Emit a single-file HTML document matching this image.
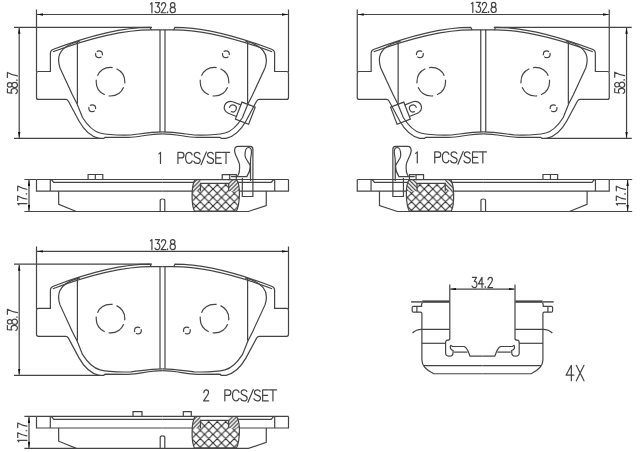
<!DOCTYPE html>
<html><head><meta charset="utf-8"><style>
html,body{margin:0;padding:0;background:#fff;width:640px;height:452px;overflow:hidden}
svg{display:block}
</style></head><body>
<svg width="640" height="452" viewBox="0 0 640 452">
<defs>
<path id="g1" d="M0.4 -8.7L1.9 -10V0" vector-effect="non-scaling-stroke"/>
<path id="g2" d="M0.3 -7.6C0.5 -9.2 1.4 -10 2.5 -10C3.8 -10 4.6 -9 4.6 -7.6C4.6 -6.2 3.8 -5.1 0.1 0H4.8" vector-effect="non-scaling-stroke"/>
<path id="g3" d="M0.4 -10H4.5L2.2 -6.1C3.8 -6.3 4.8 -5 4.8 -3.1C4.8 -1.1 3.7 0 2.4 0C1.2 0 0.4 -0.6 0 -1.5" vector-effect="non-scaling-stroke"/>
<path id="g4" d="M3.4 0V-10L0 -3.6H5" vector-effect="non-scaling-stroke"/>
<path id="g5" d="M4.9 -10H1L0.6 -5.5C1.2 -6 2 -6.3 2.7 -6.3C4.3 -6.3 5.2 -5 5.2 -3.1C5.2 -1.1 4.1 0 2.6 0C1.4 0 0.5 -0.6 0.1 -1.6" vector-effect="non-scaling-stroke"/>
<path id="g7" d="M0 -10H5C3.3 -7 2.2 -4 1.6 0" vector-effect="non-scaling-stroke"/>
<path id="g8" d="M2.6 -5.4C1.2 -5.4 0.4 -6.3 0.4 -7.7C0.4 -9.1 1.3 -10 2.6 -10C3.9 -10 4.8 -9.1 4.8 -7.7C4.8 -6.3 4 -5.4 2.6 -5.4C1.1 -5.4 0 -4.4 0 -2.7C0 -1 1.1 0 2.6 0C4.1 0 5.2 -1 5.2 -2.7C5.2 -4.4 4.1 -5.4 2.6 -5.4Z" vector-effect="non-scaling-stroke"/>
<path id="gdot" d="M0.6 -0.9V-0.1" vector-effect="non-scaling-stroke"/>
<path id="gP" d="M0.4 0V-10H3.3C5 -10 5.9 -9 5.9 -7.5C5.9 -6 5 -5 3.3 -5H0.4" vector-effect="non-scaling-stroke"/>
<path id="gC" d="M6 -7.7C5.6 -9.2 4.6 -10 3.3 -10C1.3 -10 0.1 -8 0.1 -5C0.1 -2 1.3 0 3.3 0C4.6 0 5.6 -0.8 6.1 -2.4" vector-effect="non-scaling-stroke"/>
<path id="gS" d="M5.6 -8.5C5.2 -9.5 4.3 -10 3 -10C1.5 -10 0.4 -9.2 0.4 -7.6C0.4 -4.2 5.9 -5.8 5.9 -2.6C5.9 -0.9 4.7 0 3 0C1.4 0 0.4 -0.7 0 -1.9" vector-effect="non-scaling-stroke"/>
<path id="gsl" d="M0 1.2L4.8 -10.4" vector-effect="non-scaling-stroke"/>
<path id="gE" d="M5.5 -10H0.4V0H5.5M0.4 -5.1H5" vector-effect="non-scaling-stroke"/>
<path id="gT" d="M0 -10H6.6M3.3 -10V0" vector-effect="non-scaling-stroke"/>
<path id="gX" d="M0 -10L5 0M5 -10L0 0" vector-effect="non-scaling-stroke"/>
<pattern id="xh" patternUnits="userSpaceOnUse" width="8.5" height="8.5" x="0.5" y="2">
<path d="M0 0L8.5 8.5M8.5 0L0 8.5M-1 7.5L1 9.5M7.5 -1L9.5 1M7.5 9.5L9.5 7.5M-1 1L1 -1" stroke="#2a2a2a" stroke-width="1.1" fill="none"/>
</pattern>
<pattern id="sh" patternUnits="userSpaceOnUse" width="4" height="4" x="0.5" y="0">
<path d="M-1 5L5 -1M-1 1L1 -1M3 5L5 3" stroke="#2a2a2a" stroke-width="1.1" fill="none"/>
</pattern>
<marker id="ah" viewBox="0 0 10 4" refX="10" refY="2" markerWidth="6" markerHeight="2.6" orient="auto-start-reverse" markerUnits="userSpaceOnUse">
<path d="M0 0L10 2L0 4z" fill="#111" stroke="none"/>
</marker>
<clipPath id="blk"><path d="M194.9 179.6L236.6 179.6C239 183 239.6 188 239.4 195C239.2 202 238.5 207 236.5 211L194.4 211C192.5 207 192 202 192.1 195C192.2 188 193 183 194.9 179.6Z"/></clipPath>
<!-- left half of pad front view -->
<g id="halfPad">
<path d="M162.5 29.8L151.3 29.8L150 27.3Q111 27.3 53.4 49.3Q50.4 50.6 50.4 53L50.4 71.5L38.5 71.5Q36.5 71.5 36.5 73.5L36.5 97.4Q36.5 99.4 38.5 99.4L65.6 99.4Q67.4 99.4 68.4 101.2L79 121C84 130 90 136.4 99 138.4L103.8 138.4L105 137.3L128 137.4C140 137 148 134 162.5 133.8"/>
<path d="M52.9 51.8Q112 29.8 151.3 29.8"/>
<path d="M80 41C66 44.5 58.6 51 58.6 60C58.6 63 59 65 60 68L72.5 95L77 103.8L82.5 117.5C86 123 92 131 100 133C106 134.5 120 135.3 131 135C140 134 150 132 162.5 131.9"/>
<path d="M77.4 41.8L77.4 103.8"/>
<path d="M160 29.8L160 131.9"/>
</g>
<g id="pad">
<use href="#halfPad" xlink:href="#halfPad"/>
<use href="#halfPad" xlink:href="#halfPad" transform="translate(325,0) scale(-1,1)"/>
<circle cx="110.5" cy="81.7" r="14.3" stroke-dasharray="18.46 4" stroke-dashoffset="16.7"/>
<circle cx="214.5" cy="81.7" r="14.3" stroke-dasharray="18.46 4" stroke-dashoffset="16.7"/>
</g>
<g id="halfSide">
<path d="M36.5 179.5L162.5 179.5"/>
<path d="M36.5 179.5L36.5 191.1L162.5 191.1"/>
<path d="M50.3 179.5L50.3 191.1"/>
<path d="M51.3 179.5L53.8 182.4L162.5 182.4"/>
<path d="M160.2 211.5L160.2 200.5Q160.2 199 162.5 199"/>
</g>
<g id="fric"><path d="M58.6 191.1L58.7 204.3L76.3 211.5L248.4 211.5L266.25 205.5L266.3 191.1"/></g>
<g id="dims">
<path d="M36.5 9.5L36.5 72M288.5 9.5L288.5 72"/>
<path d="M37 14.5L288 14.5" marker-start="url(#ah)" marker-end="url(#ah)"/>
<path d="M14 27.3L152 27.3M14 138.4L100 138.4"/>
<path d="M19.2 27.8L19.2 137.9" marker-start="url(#ah)" marker-end="url(#ah)"/>
</g>
<g id="sdimL">
<path d="M24.4 179.5L36.5 179.5M24.4 211.5L76.3 211.5"/>
<path d="M29 180L29 211" marker-start="url(#ah)" marker-end="url(#ah)"/>
</g>
<g id="hatch">
<g clip-path="url(#blk)">
<rect x="190" y="178" width="52" height="35" fill="#fff" stroke="none"/>
<path d="M190 191.3L200.5 191.3L200.5 183.4L228.7 183.4L228.7 191.3L242 191.3L242 213L190 213Z" fill="url(#xh)" stroke="none"/>
<path d="M190 179.6H200.5V191.3H190Z M228.7 179.6H242V191.3H228.7Z" fill="url(#sh)" stroke="none"/>
</g>
<path d="M194.9 179.6L236.6 179.6C239 183 239.6 188 239.4 195C239.2 202 238.5 207 236.5 211L194.4 211C192.5 207 192 202 192.1 195C192.2 188 193 183 194.9 179.6Z"/>
<path d="M200.5 191.3L200.5 183.4L228.7 183.4L228.7 191.3"/>
</g>
<!-- geometry of the top-left panel (mirrored for top-right) -->
<g id="geoTL">
<use href="#pad" xlink:href="#pad"/>
<circle cx="99" cy="54.3" r="3.4" stroke-dasharray="9.18 1.5" stroke-dashoffset="8.15"/>
<circle cx="225.9" cy="54.2" r="3.4" stroke-dasharray="9.18 1.5" stroke-dashoffset="8.15"/>
<circle cx="92.2" cy="108.2" r="3.4" stroke-dasharray="9.18 1.5" stroke-dashoffset="8.15"/>
<g transform="translate(245.3,113.2) rotate(21)">
<rect x="-7.1" y="-9.15" width="14.2" height="18.3"/>
<path d="M-7.1 -6.2L-15.9 -6.2A6.2 6.2 0 0 0 -15.9 6.2L-7.1 6.2"/>
<circle cx="-13.4" cy="0" r="3.5" stroke-dasharray="14 4" stroke-dashoffset="8"/>
</g>
<use href="#dims" xlink:href="#dims"/>
<use href="#halfSide" xlink:href="#halfSide"/>
<use href="#halfSide" xlink:href="#halfSide" transform="translate(325,0) scale(-1,1)"/>
<use href="#fric" xlink:href="#fric"/>
<path d="M88.1 179.5L88.1 174.5L102.8 174.5L102.8 179.5M95.3 174.5L95.3 179.5"/>
<path d="M222.2 179.5L222.2 174.7L236.3 174.7L236.3 179.5M229.7 174.7L229.7 179.5"/>
<use href="#hatch" xlink:href="#hatch"/>
<path d="M237.5 176.2C239.8 173 239.8 168 239.5 164.5C238.5 159.5 234.6 155 234.6 150.5C234.6 147.8 235.8 146.4 238 146.4L250.5 146.4C252 146.4 252.9 147.5 252.9 149.5L252.9 196.5L242.3 196.5L242.3 178"/>
<path d="M231 176.6L246.8 176.6C248.5 174 250.2 170 250.2 166.5C250.2 163 245 160 245 155.5C245 150.5 246.5 147.5 248.5 147.5C250.5 147.5 251.5 149.5 251.5 152C251.5 155 250.5 157 250.5 160L250.5 181"/>
</g>
<!-- geometry of bottom-left panel (relative to top-left coords) -->
<g id="geoBL">
<use href="#pad" xlink:href="#pad"/>
<circle cx="137.9" cy="93.6" r="3.4" stroke-dasharray="9.18 1.5" stroke-dashoffset="1.92"/>
<circle cx="186.9" cy="93.6" r="3.4" stroke-dasharray="9.18 1.5" stroke-dashoffset="1.92"/>
<use href="#dims" xlink:href="#dims"/>
<use href="#halfSide" xlink:href="#halfSide"/>
<use href="#halfSide" xlink:href="#halfSide" transform="translate(325,0) scale(-1,1)"/>
<use href="#fric" xlink:href="#fric"/>
<use href="#sdimL" xlink:href="#sdimL"/>
<path d="M133 179.5L133 174.8L142 174.8L142 179.5"/>
<path d="M183.3 179.5L183.3 174.8L191.3 174.8L191.3 179.5"/>
<use href="#hatch" xlink:href="#hatch"/>
</g>
<g id="halfClip">
<path d="M411.1 301.9L422.2 301.9" stroke-width="1.4"/>
<path d="M422.2 301.6L449.6 301.6" stroke-width="2.4"/>
<path d="M422.2 302.5L421.6 304.7L421.6 306.3L413.5 306.3Q412.2 306.3 412.2 307.6L412.2 311Q412.2 312.2 413.5 312.2L420.5 312.2Q421.9 312.2 421.9 313.6L421.9 360C421.9 365 426 370 433.75 373.75L482.4 373.75"/>
<path d="M416.9 306.3L416.9 312.2"/>
<path d="M423.5 365.6L482.4 365.6"/>
<path d="M412.5 333Q416 329.4 421.75 329.4L449.6 329.4"/>
<path d="M421.75 343.3L445.6 343.3"/>
<path d="M449.8 284.4L449.8 338.5Q449.8 340.2 447.5 340.2Q445.6 340.4 445.6 343L445.6 353Q445.6 356.2 449.4 356.2Q453.1 356.2 453.1 352.5L453.1 350.5Q450.3 349.5 450.3 347.5Q450.3 345.3 451 345.5L452.5 346.5L463.75 346.5C466 346.5 467 349 468 351L470 356.2L482.4 356.2"/>
<path d="M454 352.1L467.5 352.1"/>
</g>
</defs>

<g fill="none" stroke="#444" stroke-width="1.2">
<use href="#geoTL" xlink:href="#geoTL"/>
<use href="#sdimL" xlink:href="#sdimL"/>
<use href="#geoTL" xlink:href="#geoTL" transform="translate(645.75,0) scale(-1,1)"/>
<path d="M609.2 179.5L632.2 179.5M569.5 211.5L632.2 211.5"/>
<path d="M627.6 180L627.6 211" marker-start="url(#ah)" marker-end="url(#ah)"/>
<use href="#geoBL" xlink:href="#geoBL" transform="translate(0,236.9)"/>
<use href="#halfClip" xlink:href="#halfClip"/>
<use href="#halfClip" xlink:href="#halfClip" transform="translate(964.8,0) scale(-1,1)"/>
<path d="M450.3 289.1L514.5 289.1" marker-start="url(#ah)" marker-end="url(#ah)"/>
</g>
<g fill="none" stroke="#444" stroke-width="1.2" stroke-linecap="round" stroke-linejoin="round">
<use href="#g1" xlink:href="#g1" transform="translate(150.00,12.75) scale(1.01)"/>
<use href="#g3" xlink:href="#g3" transform="translate(155.00,12.75) scale(1.01)"/>
<use href="#g2" xlink:href="#g2" transform="translate(161.10,12.75) scale(1.01)"/>
<use href="#gdot" xlink:href="#gdot" transform="translate(167.00,12.75) scale(1.01)"/>
<use href="#g8" xlink:href="#g8" transform="translate(170.10,12.75) scale(1.01)"/>
<use href="#g1" xlink:href="#g1" transform="translate(470.90,12.50) scale(1.01)"/>
<use href="#g3" xlink:href="#g3" transform="translate(475.90,12.50) scale(1.01)"/>
<use href="#g2" xlink:href="#g2" transform="translate(482.00,12.50) scale(1.01)"/>
<use href="#gdot" xlink:href="#gdot" transform="translate(487.90,12.50) scale(1.01)"/>
<use href="#g8" xlink:href="#g8" transform="translate(491.00,12.50) scale(1.01)"/>
<use href="#g1" xlink:href="#g1" transform="translate(150.00,249.65) scale(1.01)"/>
<use href="#g3" xlink:href="#g3" transform="translate(155.00,249.65) scale(1.01)"/>
<use href="#g2" xlink:href="#g2" transform="translate(161.10,249.65) scale(1.01)"/>
<use href="#gdot" xlink:href="#gdot" transform="translate(167.00,249.65) scale(1.01)"/>
<use href="#g8" xlink:href="#g8" transform="translate(170.10,249.65) scale(1.01)"/>
<use href="#g3" xlink:href="#g3" transform="translate(472.00,287.60) scale(1.03)"/>
<use href="#g4" xlink:href="#g4" transform="translate(478.50,287.60) scale(1.03)"/>
<use href="#gdot" xlink:href="#gdot" transform="translate(484.60,287.60) scale(1.03)"/>
<use href="#g2" xlink:href="#g2" transform="translate(487.70,287.60) scale(1.03)"/>
<use href="#g4" xlink:href="#g4" transform="translate(566.10,380.75) scale(1.545)"/>
<use href="#gX" xlink:href="#gX" transform="translate(576.30,380.75) scale(1.545)"/>
<g transform="translate(17.4,93.7) rotate(-90)">
<use href="#g5" xlink:href="#g5" transform="translate(0.00,0) scale(1.0)"/>
<use href="#g8" xlink:href="#g8" transform="translate(6.20,0) scale(1.0)"/>
<use href="#gdot" xlink:href="#gdot" transform="translate(13.00,0) scale(1.0)"/>
<use href="#g7" xlink:href="#g7" transform="translate(16.30,0) scale(1.0)"/>
</g>
<g transform="translate(624.7,93.5) rotate(-90)">
<use href="#g5" xlink:href="#g5" transform="translate(0.00,0) scale(1.0)"/>
<use href="#g8" xlink:href="#g8" transform="translate(6.20,0) scale(1.0)"/>
<use href="#gdot" xlink:href="#gdot" transform="translate(13.00,0) scale(1.0)"/>
<use href="#g7" xlink:href="#g7" transform="translate(16.30,0) scale(1.0)"/>
</g>
<g transform="translate(17.4,330.6) rotate(-90)">
<use href="#g5" xlink:href="#g5" transform="translate(0.00,0) scale(1.0)"/>
<use href="#g8" xlink:href="#g8" transform="translate(6.20,0) scale(1.0)"/>
<use href="#gdot" xlink:href="#gdot" transform="translate(13.00,0) scale(1.0)"/>
<use href="#g7" xlink:href="#g7" transform="translate(16.30,0) scale(1.0)"/>
</g>
<g transform="translate(26.9,204.5) rotate(-90)">
<use href="#g1" xlink:href="#g1" transform="translate(-0.80,0) scale(0.92)"/>
<use href="#g7" xlink:href="#g7" transform="translate(4.00,0) scale(0.92)"/>
<use href="#gdot" xlink:href="#gdot" transform="translate(10.10,0) scale(0.92)"/>
<use href="#g7" xlink:href="#g7" transform="translate(13.80,0) scale(0.92)"/>
</g>
<g transform="translate(625.5,204.6) rotate(-90)">
<use href="#g1" xlink:href="#g1" transform="translate(-0.80,0) scale(0.92)"/>
<use href="#g7" xlink:href="#g7" transform="translate(4.00,0) scale(0.92)"/>
<use href="#gdot" xlink:href="#gdot" transform="translate(10.10,0) scale(0.92)"/>
<use href="#g7" xlink:href="#g7" transform="translate(13.80,0) scale(0.92)"/>
</g>
<g transform="translate(26.9,441.4) rotate(-90)">
<use href="#g1" xlink:href="#g1" transform="translate(-0.80,0) scale(0.92)"/>
<use href="#g7" xlink:href="#g7" transform="translate(4.00,0) scale(0.92)"/>
<use href="#gdot" xlink:href="#gdot" transform="translate(10.10,0) scale(0.92)"/>
<use href="#g7" xlink:href="#g7" transform="translate(13.80,0) scale(0.92)"/>
</g>
<use href="#g1" xlink:href="#g1" transform="translate(158.40,163.40) scale(1.1)"/>
<use href="#gP" xlink:href="#gP" transform="translate(177.50,163.40) scale(1.1)"/>
<use href="#gC" xlink:href="#gC" transform="translate(185.50,163.40) scale(1.1)"/>
<use href="#gS" xlink:href="#gS" transform="translate(193.80,163.40) scale(1.1)"/>
<use href="#gsl" xlink:href="#gsl" transform="translate(201.10,163.40) scale(1.1)"/>
<use href="#gS" xlink:href="#gS" transform="translate(207.10,163.40) scale(1.1)"/>
<use href="#gE" xlink:href="#gE" transform="translate(215.30,163.40) scale(1.1)"/>
<use href="#gT" xlink:href="#gT" transform="translate(222.40,163.40) scale(1.1)"/>
<use href="#g1" xlink:href="#g1" transform="translate(415.20,162.90) scale(1.1)"/>
<use href="#gP" xlink:href="#gP" transform="translate(434.30,162.90) scale(1.1)"/>
<use href="#gC" xlink:href="#gC" transform="translate(442.30,162.90) scale(1.1)"/>
<use href="#gS" xlink:href="#gS" transform="translate(450.60,162.90) scale(1.1)"/>
<use href="#gsl" xlink:href="#gsl" transform="translate(457.90,162.90) scale(1.1)"/>
<use href="#gS" xlink:href="#gS" transform="translate(463.90,162.90) scale(1.1)"/>
<use href="#gE" xlink:href="#gE" transform="translate(472.10,162.90) scale(1.1)"/>
<use href="#gT" xlink:href="#gT" transform="translate(479.20,162.90) scale(1.1)"/>
<use href="#g2" xlink:href="#g2" transform="translate(203.50,400.90) scale(1.1)"/>
<use href="#gP" xlink:href="#gP" transform="translate(224.40,400.90) scale(1.1)"/>
<use href="#gC" xlink:href="#gC" transform="translate(232.40,400.90) scale(1.1)"/>
<use href="#gS" xlink:href="#gS" transform="translate(240.70,400.90) scale(1.1)"/>
<use href="#gsl" xlink:href="#gsl" transform="translate(248.00,400.90) scale(1.1)"/>
<use href="#gS" xlink:href="#gS" transform="translate(254.00,400.90) scale(1.1)"/>
<use href="#gE" xlink:href="#gE" transform="translate(262.20,400.90) scale(1.1)"/>
<use href="#gT" xlink:href="#gT" transform="translate(269.30,400.90) scale(1.1)"/>
</g>
</svg>
</body></html>
